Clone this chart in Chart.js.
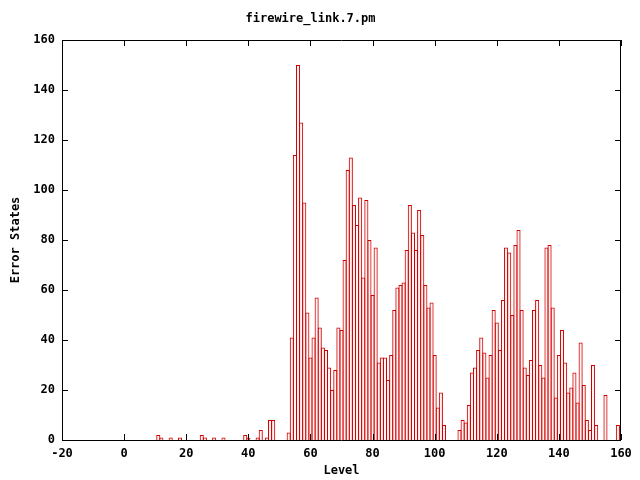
<!DOCTYPE html>
<html>
<head>
<meta charset="utf-8">
<script src="https://cdn.jsdelivr.net/npm/chart.js@4/dist/chart.umd.min.js"></script>
<style>
  html, body { margin: 0; padding: 0; background: #fff; }
  canvas { display: block; }
</style>
</head>
<body>
<canvas id="histChart" width="640" height="480"></canvas>
<script>
// levels with a non-zero count (bins of width 1)
const levels = [
  11, 12, 15, 18, 25, 26, 29, 32, 39, 40, 43, 44, 46, 47, 48, 53,
  54, 55, 56, 57, 58, 59, 60, 61, 62, 63, 64, 65, 66, 67, 68, 69, 70,
  71, 72, 73, 74, 75, 76, 77, 78, 79, 80, 81, 82, 83, 84, 85, 86, 87,
  88, 89, 90, 91, 92, 93, 94, 95, 96, 97, 98, 99, 100, 101, 102, 103,
  108, 109, 110, 111, 112, 113, 114, 115, 116, 117, 118, 119, 120,
  121, 122, 123, 124, 125, 126, 127, 128, 129, 130, 131, 132, 133,
  134, 135, 136, 137, 138, 139, 140, 141, 142, 143, 144, 145, 146,
  147, 148, 149, 150, 151, 152, 155, 159
];
const errorStates = [
  2, 1, 1, 1, 2, 1, 1, 1, 2, 1, 1, 4, 1, 8, 8, 3,
  41, 114, 150, 127, 95, 51, 33, 41, 57, 45, 37, 36, 29, 20, 28, 45, 44,
  72, 108, 113, 94, 86, 97, 65, 96, 80, 58, 77, 31, 33, 33, 24, 34, 52,
  61, 62, 63, 76, 94, 83, 76, 92, 82, 62, 53, 55, 34, 13, 19, 6,
  4, 8, 7, 14, 27, 29, 36, 41, 35, 25, 34, 52, 47,
  36, 56, 77, 75, 50, 78, 84, 52, 29, 26, 32, 52, 56,
  30, 25, 77, 78, 53, 17, 34, 44, 31, 19, 21, 27, 15,
  39, 22, 8, 4, 30, 6, 18, 6
];
const xTicks = [-20, 0, 20, 40, 60, 80, 100, 120, 140, 160];
const yTicks = [0, 20, 40, 60, 80, 100, 120, 140, 160];

const fontFamily = "'DejaVu Sans Mono', 'Liberation Mono', monospace";

// gnuplot style: black frame with inward ticks on all four sides
const framePlugin = {
  id: "frame",
  afterDraw(chart) {
    const { ctx, chartArea: a, scales } = chart;
    const len = 6;
    ctx.save();
    ctx.strokeStyle = "#000";
    ctx.lineWidth = 1;
    ctx.beginPath();
    ctx.rect(Math.round(a.left) + 0.5, Math.round(a.top) + 0.5,
      Math.round(a.right - a.left) - 1, Math.round(a.bottom - a.top));
    xTicks.forEach(v => {
      const px = Math.round(scales.x.getPixelForValue(v)) + 0.5;
      ctx.moveTo(px, a.bottom);
      ctx.lineTo(px, a.bottom - len);
      ctx.moveTo(px, a.top);
      ctx.lineTo(px, a.top + len);
    });
    yTicks.forEach(v => {
      const py = Math.round(scales.y.getPixelForValue(v)) + 0.5;
      ctx.moveTo(a.left, py);
      ctx.lineTo(a.left + len, py);
      ctx.moveTo(a.right, py);
      ctx.lineTo(a.right - len, py);
    });
    ctx.stroke();
    ctx.restore();
  }
};

const ctx = document.getElementById("histChart").getContext("2d");

// bars are widened by one border width so neighbours share an outline
const unitPx = 559 / 180;

new Chart(ctx, {
  type: "bar",
  data: {
    datasets: [{
      label: "firewire_link.7.pm",
      data: levels.map((lv, i) => ({ x: lv, y: errorStates[i] })),
      backgroundColor: "rgba(255, 0, 0, 0.05)",
      borderColor: "#d00000",
      borderWidth: 1,
      borderSkipped: "start",
      barPercentage: (unitPx + 1) / unitPx,
      categoryPercentage: 1
    }]
  },
  options: {
    responsive: false,
    animation: false,
    layout: { padding: { left: 0, right: 19, top: 0, bottom: 0 } },
    plugins: {
      legend: { display: false },
      tooltip: { enabled: false },
      title: {
        display: true,
        text: "firewire_link.7.pm",
        color: "#000",
        font: { family: fontFamily, size: 12, weight: "bold" },
        padding: { top: 12, bottom: 13.6 }
      }
    },
    scales: {
      x: {
        type: "linear",
        min: -20,
        max: 160,
        offset: false,
        afterFit: s => { s.height = 40; },
        afterBuildTicks: s => { s.ticks = xTicks.map(v => ({ value: v })); },
        grid: { display: false, drawTicks: false },
        border: { display: false },
        ticks: {
          color: "#000",
          padding: 7,
          maxRotation: 0,
          autoSkip: false,
          font: { family: fontFamily, size: 12, weight: "bold" }
        },
        title: {
          display: true,
          text: "Level",
          color: "#000",
          padding: { top: 0, bottom: 2 },
          font: { family: fontFamily, size: 12, weight: "bold" }
        }
      },
      y: {
        min: 0,
        max: 160,
        afterFit: s => { s.width = 62; },
        afterBuildTicks: s => { s.ticks = yTicks.map(v => ({ value: v })); },
        grid: { display: false, drawTicks: false },
        border: { display: false },
        ticks: {
          color: "#000",
          padding: 7,
          autoSkip: false,
          font: { family: fontFamily, size: 12, weight: "bold" }
        },
        title: {
          display: true,
          text: "Error States",
          color: "#000",
          padding: { top: 9, bottom: 0 },
          font: { family: fontFamily, size: 12, weight: "bold" }
        }
      }
    }
  },
  plugins: [framePlugin]
});
</script>
</body>
</html>
